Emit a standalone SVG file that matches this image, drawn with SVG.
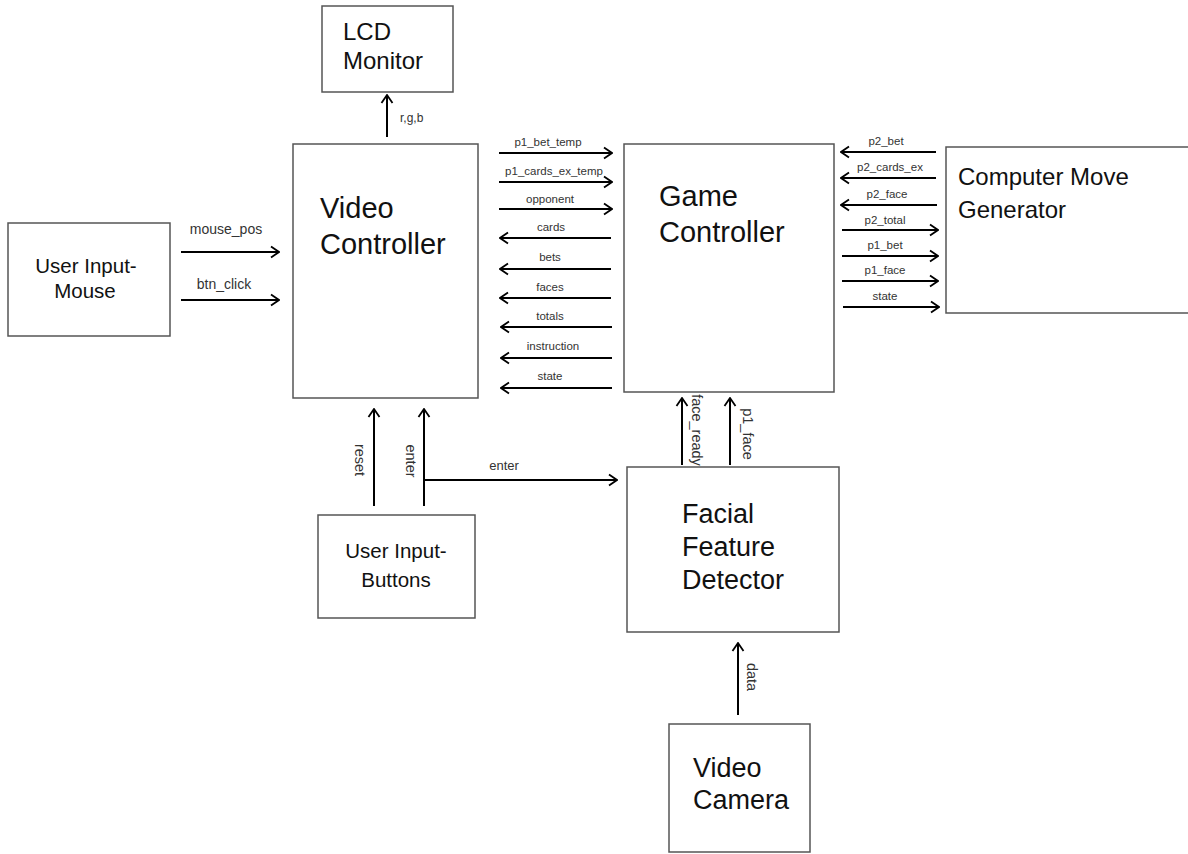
<svg xmlns="http://www.w3.org/2000/svg" width="1188" height="854" viewBox="0 0 1188 854">
<style>
.box{fill:#fff;stroke:#555;stroke-width:1.5}
.big{font-family:"Liberation Sans",Arial,sans-serif;fill:#111}
.lbl{font-family:"Liberation Sans",Arial,sans-serif;font-size:11.5px;fill:#333;text-anchor:middle}
.l13{font-size:13px}
.l14{font-size:14px}
.v{font-size:14.5px}
.ln{stroke:#000;stroke-width:2;fill:none;marker-end:url(#ah)}
</style>
<defs>
<marker id="ah" viewBox="0 0 10 14" refX="9" refY="7" markerWidth="10" markerHeight="14" markerUnits="userSpaceOnUse" orient="auto">
<path d="M1,1.5 L9,7 L1,12.5" fill="none" stroke="#000" stroke-width="1.8"/>
</marker>
</defs>
<rect width="1188" height="854" fill="#fff"/>

<g id="lcd">
<rect class="box" x="322" y="6" width="131" height="86"/>
<text class="big" font-size="24" x="343" y="40">LCD</text>
<text class="big" font-size="24" x="343" y="69">Monitor</text>
</g>
<g id="video-controller">
<rect class="box" x="293" y="144" width="185" height="254"/>
<text class="big" font-size="29" x="320" y="218">Video</text>
<text class="big" font-size="29" x="320" y="254">Controller</text>
</g>
<g id="game-controller">
<rect class="box" x="624" y="144" width="210" height="248"/>
<text class="big" font-size="29" x="659" y="206">Game</text>
<text class="big" font-size="29" x="659" y="242">Controller</text>
</g>
<g id="computer-move">
<rect class="box" x="946" y="147" width="245" height="166"/>
<text class="big" font-size="24" x="958" y="185">Computer Move</text>
<text class="big" font-size="24" x="958" y="218">Generator</text>
</g>
<g id="mouse">
<rect class="box" x="8" y="223" width="162" height="113"/>
<text class="big" font-size="20.5" x="86" y="273" text-anchor="middle">User Input-</text>
<text class="big" font-size="20.5" x="85" y="298" text-anchor="middle">Mouse</text>
</g>
<g id="buttons">
<rect class="box" x="318" y="515" width="157" height="103"/>
<text class="big" font-size="20.5" x="396" y="558" text-anchor="middle">User Input-</text>
<text class="big" font-size="20.5" x="396" y="587" text-anchor="middle">Buttons</text>
</g>
<g id="facial">
<rect class="box" x="627" y="467" width="212" height="165"/>
<text class="big" font-size="27" x="682" y="523">Facial</text>
<text class="big" font-size="27" x="682" y="556">Feature</text>
<text class="big" font-size="27" x="682" y="589">Detector</text>
</g>
<g id="camera">
<rect class="box" x="669" y="724" width="141" height="128"/>
<text class="big" font-size="27" x="693" y="777">Video</text>
<text class="big" font-size="27" x="693" y="809">Camera</text>
</g>

<g id="connectors">
<path class="ln" d="M387,137 V95"/>
<text class="lbl" style="text-anchor:start;font-size:12px" x="400" y="122">r,g,b</text>

<path class="ln" d="M181,252 H279"/>
<text class="lbl l14" x="226" y="234">mouse_pos</text>
<path class="ln" d="M181,300 H279"/>
<text class="lbl l14" x="224" y="289">btn_click</text>

<path class="ln" d="M499,153 H612"/>
<text class="lbl" x="548" y="146">p1_bet_temp</text>
<path class="ln" d="M499,182 H612"/>
<text class="lbl" x="554" y="175">p1_cards_ex_temp</text>
<path class="ln" d="M499,209 H612"/>
<text class="lbl" x="550" y="203">opponent</text>
<path class="ln" d="M611,238 H500"/>
<text class="lbl" x="551" y="231">cards</text>
<path class="ln" d="M611,269 H500"/>
<text class="lbl" x="550" y="261">bets</text>
<path class="ln" d="M611,298 H500"/>
<text class="lbl" x="550" y="291">faces</text>
<path class="ln" d="M612,327 H501"/>
<text class="lbl" x="550" y="320">totals</text>
<path class="ln" d="M612,358 H501"/>
<text class="lbl" x="553" y="350">instruction</text>
<path class="ln" d="M612,388 H501"/>
<text class="lbl" x="550" y="380">state</text>

<path class="ln" d="M936,152 H841"/>
<text class="lbl" x="886" y="145">p2_bet</text>
<path class="ln" d="M936,178 H841"/>
<text class="lbl" x="890" y="171">p2_cards_ex</text>
<path class="ln" d="M937,205 H841"/>
<text class="lbl" x="887" y="198">p2_face</text>
<path class="ln" d="M842,230 H938"/>
<text class="lbl" x="885" y="224">p2_total</text>
<path class="ln" d="M842,256 H938"/>
<text class="lbl" x="885" y="249">p1_bet</text>
<path class="ln" d="M842,281 H938"/>
<text class="lbl" x="885" y="274">p1_face</text>
<path class="ln" d="M843,307 H939"/>
<text class="lbl" x="885" y="300">state</text>

<path class="ln" d="M374,506 V409"/>
<text class="lbl v" transform="translate(355,460) rotate(90)">reset</text>
<path class="ln" d="M424,506 V409"/>
<text class="lbl v" transform="translate(406,461) rotate(90)">enter</text>
<path class="ln" d="M424,480 H617"/>
<text class="lbl l13" x="504" y="470">enter</text>

<path class="ln" d="M682,465 V398"/>
<text class="lbl v" transform="translate(692,430) rotate(90)">face_ready</text>
<path class="ln" d="M730,465 V398"/>
<text class="lbl v" transform="translate(743,434) rotate(90)">p1_face</text>

<path class="ln" d="M738,715 V643"/>
<text class="lbl v" transform="translate(747,677) rotate(90)">data</text>
</g>
</svg>
